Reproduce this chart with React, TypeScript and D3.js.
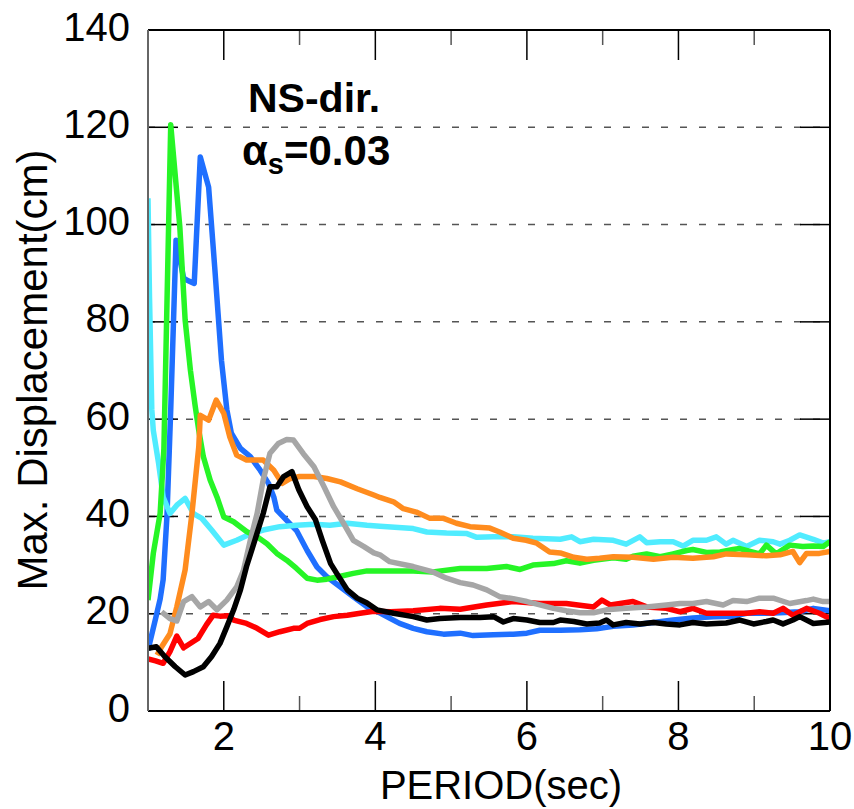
import React from 'react';
import * as d3 from 'd3';

type Pt = [number, number];

// period (sec), max displacement (cm)
const red: Pt[] = [[1.0,10.7],[1.1,10.3],[1.2,9.8],[1.29,12.2],[1.38,15.4],[1.47,13.0],[1.66,14.9],[1.77,17.7],[1.86,19.7],[1.95,19.5],[2.05,19.6],[2.13,18.7],[2.3,18.0],[2.44,17.0],[2.59,15.6],[2.74,16.3],[2.92,17.0],[3.0,17.0],[3.1,18.0],[3.27,18.8],[3.45,19.4],[3.63,19.7],[3.8,20.1],[3.98,20.5],[4.2,20.4],[4.5,20.6],[4.85,21.1],[5.12,20.9],[5.47,21.8],[5.82,22.5],[6.17,22.1],[6.52,22.1],[6.88,21.4],[6.99,22.8],[7.1,21.8],[7.23,22.1],[7.4,22.5],[7.58,21.4],[7.84,21.1],[8.02,20.4],[8.19,21.1],[8.37,20.1],[8.63,20.1],[8.9,20.1],[9.07,20.4],[9.25,20.1],[9.38,21.1],[9.51,19.7],[9.69,21.1],[9.86,20.1],[10,19.0]];
const blue: Pt[] = [[1.0,12.5],[1.1,19],[1.16,23],[1.2,27],[1.25,40],[1.3,62],[1.37,96.8],[1.47,89],[1.51,88.6],[1.61,87.9],[1.69,113.9],[1.8,107.7],[1.88,91.3],[1.97,72],[2.04,62],[2.1,57.1],[2.22,54.0],[2.35,52.3],[2.48,49.5],[2.59,46.8],[2.66,44.0],[2.7,41.3],[2.83,39.2],[2.96,37.1],[3.1,33.0],[3.23,29.6],[3.36,27.6],[3.54,25.5],[3.71,23.5],[3.89,21.4],[4.07,20.1],[4.2,19.0],[4.32,18.0],[4.5,17.0],[4.68,16.3],[4.9,15.8],[5.12,16.0],[5.29,15.5],[5.56,15.7],[5.82,15.8],[6.0,16.0],[6.17,16.6],[6.44,16.6],[6.7,16.7],[6.92,16.9],[7.14,17.4],[7.4,17.7],[7.67,18.2],[7.93,18.7],[8.19,19.1],[8.46,19.4],[8.72,19.5],[8.9,20.1],[9.16,20.1],[9.34,20.2],[9.6,20.4],[9.78,21.1],[10,20.6]];
const green: Pt[] = [[1.0,22.8],[1.07,32.4],[1.16,40.6],[1.21,54],[1.3,120.5],[1.42,99.5],[1.49,80.4],[1.56,70],[1.62,63],[1.67,57.7],[1.73,52.3],[1.82,47.5],[1.91,44.0],[2.0,39.9],[2.13,38.9],[2.3,36.9],[2.44,35.8],[2.57,34.4],[2.7,32.4],[2.83,31.0],[2.96,29.3],[3.1,27.3],[3.23,26.9],[3.36,27.1],[3.54,27.7],[3.71,28.3],[3.89,28.8],[4.06,28.8],[4.5,28.8],[4.76,28.6],[5.12,29.3],[5.47,29.3],[5.73,29.7],[5.91,29.1],[6.08,30.0],[6.35,30.3],[6.52,30.9],[6.7,30.4],[6.88,31.0],[7.14,31.5],[7.31,31.2],[7.4,31.8],[7.58,32.3],[7.76,31.7],[7.93,32.3],[8.11,33.0],[8.19,33.2],[8.37,32.6],[8.55,32.7],[8.72,33.2],[8.81,33.4],[9.07,32.3],[9.16,34.1],[9.29,32.3],[9.47,34.1],[9.64,33.8],[9.78,33.9],[9.91,33.8],[10,34.8]];
const cyan: Pt[] = [[1.0,105.4],[1.02,85],[1.05,62],[1.07,57.7],[1.14,50.9],[1.2,44.0],[1.29,40.6],[1.38,42.3],[1.49,43.7],[1.6,40.6],[1.71,39.6],[1.84,37.2],[2.0,34.1],[2.17,35.1],[2.35,36.4],[2.52,37.2],[2.74,37.9],[2.96,38.2],[3.19,38.4],[3.4,38.2],[3.63,38.6],[3.89,38.2],[4.06,38.0],[4.5,37.5],[4.68,36.8],[4.94,36.6],[5.2,36.5],[5.34,35.7],[5.56,35.8],[5.82,35.8],[6.08,35.5],[6.44,35.3],[6.59,35.8],[6.7,34.8],[6.88,35.3],[7.14,35.1],[7.31,34.3],[7.49,35.8],[7.58,34.6],[7.76,34.8],[7.93,34.8],[8.06,33.9],[8.19,35.1],[8.37,35.1],[8.5,35.8],[8.63,34.3],[8.72,35.1],[8.9,33.8],[9.07,35.1],[9.25,34.8],[9.34,34.3],[9.47,35.1],[9.6,36.2],[9.78,35.3],[9.91,34.5],[10,34.8]];
const orange: Pt[] = [[1.12,11.5],[1.18,13.2],[1.29,15.9],[1.38,21.4],[1.49,29.0],[1.58,40.6],[1.67,54.3],[1.69,60.8],[1.8,59.8],[1.9,63.9],[2.0,61.2],[2.08,56.3],[2.17,52.6],[2.3,51.6],[2.52,51.6],[2.66,49.5],[2.77,46.8],[2.88,47.8],[3.0,48.2],[3.19,48.2],[3.36,47.8],[3.54,47.1],[3.76,45.7],[3.98,44.4],[4.06,43.9],[4.24,43.0],[4.37,41.6],[4.54,40.9],[4.72,39.6],[4.9,39.6],[5.07,38.6],[5.25,37.9],[5.51,37.6],[5.64,36.8],[5.82,35.5],[5.99,35.1],[6.13,34.5],[6.3,32.7],[6.44,32.5],[6.62,31.6],[6.79,31.2],[6.96,31.4],[7.14,31.7],[7.4,31.6],[7.67,31.2],[7.93,31.6],[8.19,31.4],[8.46,31.7],[8.63,32.3],[8.9,32.1],[9.16,31.9],[9.34,32.1],[9.51,32.8],[9.6,30.5],[9.69,32.4],[9.86,32.4],[10,32.8]];
const gray: Pt[] = [[1.18,20.4],[1.29,19.0],[1.38,18.5],[1.47,22.5],[1.58,23.5],[1.69,21.4],[1.8,22.5],[1.91,20.8],[2.04,22.8],[2.17,25.5],[2.26,28.9],[2.35,35.1],[2.44,40.6],[2.52,47.5],[2.61,53.0],[2.72,55.0],[2.83,55.8],[2.92,55.7],[3.05,52.9],[3.19,50.2],[3.32,46.2],[3.45,42.0],[3.58,38.6],[3.71,35.1],[3.85,33.8],[3.98,32.5],[4.06,32.1],[4.19,30.7],[4.5,29.7],[4.76,28.6],[4.94,27.3],[5.12,26.4],[5.29,25.9],[5.47,24.9],[5.64,23.5],[5.82,23.1],[6.0,22.5],[6.17,21.8],[6.35,21.1],[6.52,20.6],[6.7,20.2],[6.88,20.2],[7.05,20.8],[7.31,21.1],[7.58,21.4],[7.84,21.8],[8.02,22.1],[8.19,22.1],[8.37,22.5],[8.59,21.8],[8.72,22.7],[8.9,22.5],[9.07,23.2],[9.25,23.2],[9.47,22.1],[9.69,22.7],[9.78,23.0],[9.91,22.5],[10,22.5]];
const black: Pt[] = [[1.0,12.9],[1.11,13.2],[1.22,11.2],[1.36,9.1],[1.49,7.4],[1.6,8.1],[1.73,9.1],[1.84,11.2],[1.95,13.9],[2.04,17.3],[2.13,20.8],[2.22,24.9],[2.3,29.7],[2.41,35.1],[2.52,40.6],[2.61,46.1],[2.7,46.1],[2.79,48.2],[2.9,49.2],[2.99,45.5],[3.1,42.0],[3.21,39.3],[3.3,35.1],[3.41,30.3],[3.49,28.3],[3.63,24.9],[3.76,23.2],[3.89,22.2],[4.02,20.8],[4.24,20.1],[4.5,19.4],[4.68,18.7],[4.85,19.0],[5.12,19.2],[5.38,19.2],[5.56,19.4],[5.69,18.3],[5.82,19.0],[6.0,18.7],[6.17,18.2],[6.35,18.2],[6.44,18.7],[6.62,18.4],[6.79,17.9],[6.96,18.1],[7.05,18.7],[7.14,17.7],[7.31,18.2],[7.49,17.9],[7.67,18.2],[7.84,17.9],[8.02,17.7],[8.19,18.2],[8.37,17.9],[8.63,18.1],[8.81,18.7],[8.99,17.9],[9.16,18.4],[9.25,18.7],[9.38,17.9],[9.51,18.7],[9.6,19.4],[9.78,18.0],[10,18.3]];

const yTicks = [0, 20, 40, 60, 80, 100, 120, 140];
const xMajor = [2, 4, 6, 8, 10];
const xMinor = [3, 5, 7, 9];

const series = [
  { data: blue, color: '#1f6fff' },
  { data: cyan, color: '#50ecff' },
  { data: green, color: '#26f526' },
  { data: orange, color: '#ff8c1e' },
  { data: red, color: '#ff0000' },
  { data: gray, color: '#a6a6a6' },
  { data: black, color: '#000000' },
];

const W = 854;
const H = 809;
const L = 148, R = 830, T = 30, B = 711;
const font = '"Liberation Sans", Arial, sans-serif';

export default function App() {
  const x = d3.scaleLinear().domain([1, 10]).range([L, R]);
  const y = d3.scaleLinear().domain([0, 140]).range([B, T]);
  const line = d3.line<Pt>().x((d) => x(d[0])).y((d) => y(d[1]));

  return (
    <svg width={W} height={H} style={{ position: 'absolute', left: 0, top: 0, background: '#fff' }} fontFamily={font}>
      <defs>
        <clipPath id="plot">
          <rect x={L} y={T} width={R - L} height={B - T} />
        </clipPath>
      </defs>
      {/* dashed grid */}
      {yTicks.filter((v) => v > 0 && v < 140).map((v) => (
        <line key={'g' + v} x1={L} x2={R} y1={y(v)} y2={y(v)} stroke="#555" strokeWidth={1.5} strokeDasharray="7,12" />
      ))}
      {/* y ticks both sides */}
      {yTicks.map((v) => (
        <g key={'yt' + v}>
          <line x1={L} x2={L + 30} y1={y(v)} y2={y(v)} stroke="#000" strokeWidth={1.5} />
          <line x1={R - 30} x2={R} y1={y(v)} y2={y(v)} stroke="#000" strokeWidth={1.5} />
          <text x={130} y={y(v) + 10.5} fontSize={40} textAnchor="end">{v}</text>
        </g>
      ))}
      {/* x ticks bottom and top */}
      {xMajor.map((v) => (
        <g key={'xt' + v}>
          <line x1={x(v)} x2={x(v)} y1={B} y2={B - 30} stroke="#000" strokeWidth={1.5} />
          <line x1={x(v)} x2={x(v)} y1={T} y2={T + 30} stroke="#000" strokeWidth={1.5} />
          <text x={x(v)} y={750} fontSize={40} textAnchor="middle">{v}</text>
        </g>
      ))}
      {xMinor.map((v) => (
        <g key={'xm' + v}>
          <line x1={x(v)} x2={x(v)} y1={B} y2={B - 15} stroke="#555" strokeWidth={1.5} />
          <line x1={x(v)} x2={x(v)} y1={T} y2={T + 15} stroke="#555" strokeWidth={1.5} />
        </g>
      ))}
      {/* curves */}
      <g clipPath="url(#plot)">
        {series.map((s, i) => (
          <path key={i} d={line(s.data) || ''} fill="none" stroke={s.color} strokeWidth={5.5} strokeLinejoin="round" />
        ))}
      </g>
      {/* frame */}
      <line x1={L} x2={R} y1={T} y2={T} stroke="#000" strokeWidth={2} />
      <line x1={L} x2={R} y1={B} y2={B} stroke="#000" strokeWidth={2} />
      <line x1={R} x2={R} y1={T} y2={B} stroke="#000" strokeWidth={2} />
      <line x1={L} x2={L} y1={T} y2={B} stroke="#666" strokeWidth={2} />
      {/* annotation */}
      <text x={248} y={112} fontSize={41} fontWeight="bold">NS-dir.</text>
      <text x={242} y={165} fontSize={42} fontWeight="bold">
        α<tspan fontSize={29} dy={9}>s</tspan><tspan dy={-9}>=0.03</tspan>
      </text>
      {/* axis titles */}
      <text x={501} y={799} fontSize={40} textAnchor="middle">PERIOD(sec)</text>
      <text transform="translate(47,370) rotate(-90)" fontSize={42} textAnchor="middle">Max. Displacement(cm)</text>
    </svg>
  );
}
